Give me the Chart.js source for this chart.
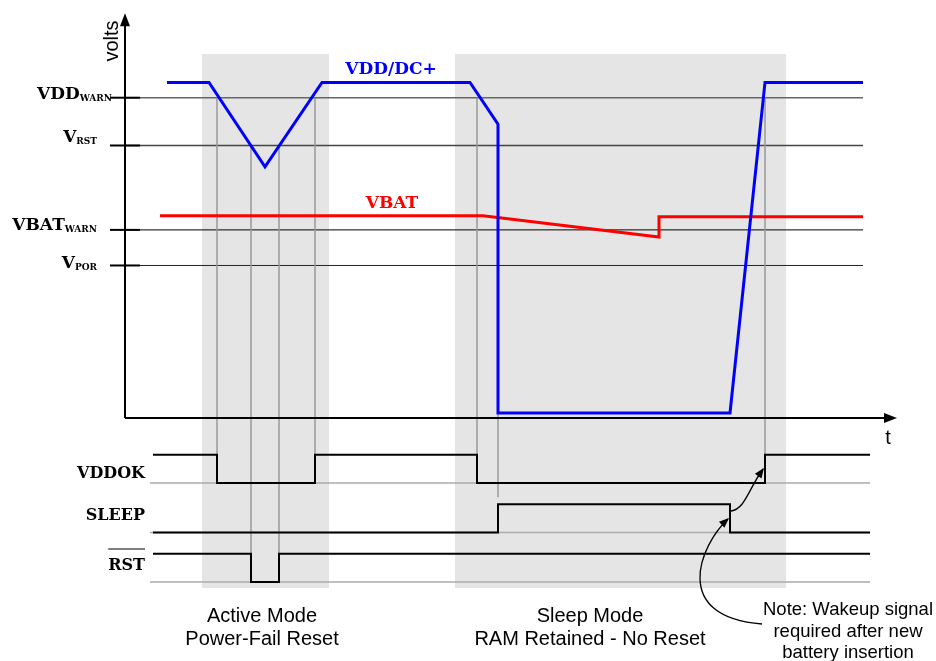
<!DOCTYPE html>
<html lang="en">
<head>
<meta charset="UTF-8">
<title>VDD / VBAT power-fail timing</title>
<script src="https://cdn.jsdelivr.net/npm/chart.js"></script>
<style>
  body { margin: 0; background: #fff; }
  #wrap { width: 936px; height: 661px; position: relative; }
</style>
</head>
<body>

<div id="wrap"><canvas id="chart"></canvas></div>

<script>
    // ---- data (time in arbitrary units, analog traces in volts) ----
    const vddT = [10.5, 21, 35, 49.25, 86.25, 93.25, 93.25, 151.25, 160, 184.5];
    const vddV = [3.3, 3.3, 2.47, 3.3, 3.3, 2.89, 0.05, 0.05, 3.3, 3.3];

    const vbatT = [8.75, 89.5, 133.5, 133.5, 184.5];
    const vbatV = [1.99, 1.99, 1.78, 1.98, 1.98];

    // threshold levels
    const levelNames = ['VDD', 'V', 'VBAT', 'V'];
    const levelSubs = ['WARN', 'RST', 'WARN', 'POR'];
    const levelVolts = [3.15, 2.68, 1.85, 1.5];

    // digital signals: time of each edge and the state after it
    const vddokT = [7, 23, 47.5, 88, 160, 186.25];
    const vddokS = [1, 0, 1, 0, 1, 1];
    const sleepT = [7, 93.25, 151.25, 186.25];
    const sleepS = [0, 1, 0, 0];
    const rstT = [7, 31.5, 38.5, 186.25];
    const rstS = [1, 0, 1, 1];
    const signalNames = ['VDDOK', 'SLEEP', 'RST'];

    // guide lines: time, analog level where they start, logic row level where they end
    const guideT = [23, 31.5, 38.5, 47.5, 88, 93.25, 160];
    const guideTop = [3.15, 2.68, 2.68, 3.15, 3.15, 0.05, 3.15];
    const guideBottom = [0, -3.5, -3.5, 0, 0, -0.5, 0];

    // shaded operating modes
    const modeStart = [19.25, 82.5];
    const modeEnd = [51, 165.25];
    const modeText = [['Active Mode', 'Power-Fail Reset'], ['Sleep Mode', 'RAM Retained - No Reset']];
    const noteText = ['Note: Wakeup signal', 'required after new', 'battery insertion'];

    // ---- layout ----
    const rowOffset = [0, -1.75, -3.5];   // logic rows on the "logic" axis
    const SERIF = '"DejaVu Serif", serif';
    const SANS = '"Liberation Sans", Arial, sans-serif';

    function pts(ts, vs, off) {
        return ts.map((t, i) => ({ x: t, y: vs[i] + (off || 0) }));
    }

    function arrowHead(ctx, x, y, ang, len, w) {
        len = len || 10; w = w || 4;
        ctx.beginPath();
        ctx.moveTo(x, y);
        ctx.lineTo(x - len * Math.cos(ang) + w * Math.sin(ang), y - len * Math.sin(ang) - w * Math.cos(ang));
        ctx.lineTo(x - len * Math.cos(ang) - w * Math.sin(ang), y - len * Math.sin(ang) + w * Math.cos(ang));
        ctx.closePath();
        ctx.fill();
    }

    const diagram = {
        id: 'diagram',
        beforeDatasetsDraw(chart) {
            const ctx = chart.ctx;
            const X = chart.scales.x, V = chart.scales.v, L = chart.scales.logic;
            ctx.save();

            // shaded modes
            ctx.fillStyle = '#e5e5e5';
            const top = V.getPixelForValue(3.58), bot = L.getPixelForValue(-3.71);
            modeStart.forEach((s, i) => {
                const x0 = X.getPixelForValue(s), x1 = X.getPixelForValue(modeEnd[i]);
                ctx.fillRect(x0, top, x1 - x0, bot - top);
            });

            // threshold lines
            const lineCol = ['#666', '#444', '#000', '#222'];
            const lineW = [1.6, 1.3, 1, 1];
            levelVolts.forEach((v, i) => {
                const y = V.getPixelForValue(v);
                ctx.strokeStyle = lineCol[i];
                ctx.lineWidth = lineW[i];
                ctx.beginPath();
                ctx.moveTo(X.getPixelForValue(0), y);
                ctx.lineTo(X.getPixelForValue(184.5), y);
                ctx.stroke();
                ctx.strokeStyle = '#000';
                ctx.lineWidth = 2;
                ctx.beginPath();
                ctx.moveTo(X.getPixelForValue(-3.75), y);
                ctx.lineTo(X.getPixelForValue(3.75), y);
                ctx.stroke();
            });

            // guide lines
            ctx.strokeStyle = '#999';
            ctx.lineWidth = 1.5;
            guideT.forEach((t, i) => {
                const x = X.getPixelForValue(t);
                ctx.beginPath();
                ctx.moveTo(x, V.getPixelForValue(guideTop[i]));
                ctx.lineTo(x, L.getPixelForValue(guideBottom[i]));
                ctx.stroke();
            });

            // logic baselines
            ctx.strokeStyle = '#aaa';
            rowOffset.forEach(o => {
                const y = L.getPixelForValue(o);
                ctx.beginPath();
                ctx.moveTo(X.getPixelForValue(6.25), y);
                ctx.lineTo(X.getPixelForValue(186.25), y);
                ctx.stroke();
            });

            // axes
            const ox = X.getPixelForValue(0), oy = V.getPixelForValue(0);
            const ytop = V.getPixelForValue(3.98), xend = X.getPixelForValue(193);
            ctx.strokeStyle = '#000';
            ctx.fillStyle = '#000';
            ctx.lineWidth = 2;
            ctx.beginPath();
            ctx.moveTo(ox, oy);
            ctx.lineTo(ox, ytop + 8);
            ctx.moveTo(ox, oy);
            ctx.lineTo(xend - 8, oy);
            ctx.stroke();
            arrowHead(ctx, ox, ytop, -Math.PI / 2, 13, 5);
            arrowHead(ctx, xend, oy, 0, 13, 5);
            ctx.restore();
        },
        afterDatasetsDraw(chart) {
            const ctx = chart.ctx;
            const X = chart.scales.x, V = chart.scales.v, L = chart.scales.logic;
            ctx.save();
            ctx.fillStyle = '#000';

            // axis titles
            ctx.font = '20px ' + SANS;
            ctx.textAlign = 'center';
            ctx.textBaseline = 'middle';
            ctx.fillText('t', X.getPixelForValue(190.75), V.getPixelForValue(0) + 20);
            ctx.save();
            ctx.translate(X.getPixelForValue(-3.25), 41);
            ctx.rotate(-Math.PI / 2);
            ctx.fillText('volts', 0, 0);
            ctx.restore();

            // threshold labels with subscripts
            const right = [112, 97, 97, 97];
            const base = [99, 142, 230, 268];
            ctx.textBaseline = 'alphabetic';
            ctx.textAlign = 'left';
            levelNames.forEach((n, i) => {
                ctx.font = 'bold 9px ' + SERIF;
                const sw = ctx.measureText(levelSubs[i]).width;
                ctx.fillText(levelSubs[i], right[i] - sw, base[i] + 1.5);
                ctx.font = 'bold 17px ' + SERIF;
                const mw = ctx.measureText(n).width;
                ctx.fillText(n, right[i] - sw - mw, base[i]);
            });

            // trace names
            ctx.textAlign = 'center';
            ctx.font = 'bold 17px ' + SERIF;
            ctx.fillStyle = '#0000ff';
            ctx.fillText('VDD/DC+', 391, 74);
            ctx.fillStyle = '#ff0000';
            ctx.fillText('VBAT', 392, 208);

            // signal labels
            ctx.fillStyle = '#000';
            ctx.textAlign = 'right';
            ctx.font = 'bold 16px ' + SERIF;
            const sBase = [478, 520, 570];
            signalNames.forEach((n, i) => ctx.fillText(n, 145, sBase[i]));
            const rw = ctx.measureText('RST').width;
            ctx.strokeStyle = '#000';
            ctx.lineWidth = 1.2;
            ctx.beginPath();
            ctx.moveTo(145 - rw, 549);
            ctx.lineTo(145, 549);
            ctx.stroke();

            // mode captions
            ctx.textAlign = 'center';
            ctx.font = '20px ' + SANS;
            modeText.forEach((lines, i) => {
                const cx = i === 0 ? 262 : 590;
                lines.forEach((s, j) => ctx.fillText(s, cx, 622 + j * 23));
            });
            ctx.font = '18.5px ' + SANS;
            noteText.forEach((s, j) => ctx.fillText(s, 848, 615 + j * 21.5));

            // note arrows
            const sx = X.getPixelForValue(sleepT[2]);
            const tip1 = { x: sx - 2, y: 519 };
            ctx.lineWidth = 1.3;
            ctx.beginPath();
            ctx.moveTo(762, 624);
            ctx.bezierCurveTo(670, 617, 700, 545, tip1.x, tip1.y);
            ctx.stroke();
            arrowHead(ctx, tip1.x + 1, tip1.y - 1, Math.atan2(tip1.y - 545, tip1.x - 700));
            const vx = X.getPixelForValue(vddokT[4]);
            const tip2 = { x: vx - 2, y: 469 };
            ctx.beginPath();
            ctx.moveTo(sx + 1, 511);
            ctx.bezierCurveTo(745, 509, 748, 490, tip2.x, tip2.y);
            ctx.stroke();
            arrowHead(ctx, tip2.x + 1, tip2.y - 1, Math.atan2(tip2.y - 490, tip2.x - 748));
            ctx.restore();
        }
    };

    const logic = (ts, ss, row) => ({
        data: pts(ts, ss, rowOffset[row]),
        yAxisID: 'logic',
        borderColor: '#000',
        borderWidth: 2,
        stepped: true
    });

    new Chart(document.getElementById('chart'), {
        type: 'scatter',
        data: {
            datasets: [
                { data: pts(vddT, vddV), yAxisID: 'v', borderColor: '#0000ff', borderWidth: 3 },
                { data: pts(vbatT, vbatV), yAxisID: 'v', borderColor: '#ff0000', borderWidth: 3 },
                logic(vddokT, vddokS, 0),
                logic(sleepT, sleepS, 1),
                logic(rstT, rstS, 2)
            ]
        },
        options: {
            responsive: true,
            maintainAspectRatio: false,
            animation: false,
            showLine: true,
            layout: { padding: 0 },
            elements: {
                point: { radius: 0, hoverRadius: 0 },
                line: { tension: 0, borderJoinStyle: 'miter', fill: false }
            },
            plugins: { legend: { display: false }, tooltip: { enabled: false } },
            scales: {
                x: { type: 'linear', display: false, min: -31.25, max: 202.75 },
                v: { type: 'linear', display: false, min: -2.39, max: 4.111 },
                logic: { type: 'linear', display: false, min: -6.29, max: 17.067 }
            }
        },
        plugins: [diagram]
    });
</script>

</body>
</html>
